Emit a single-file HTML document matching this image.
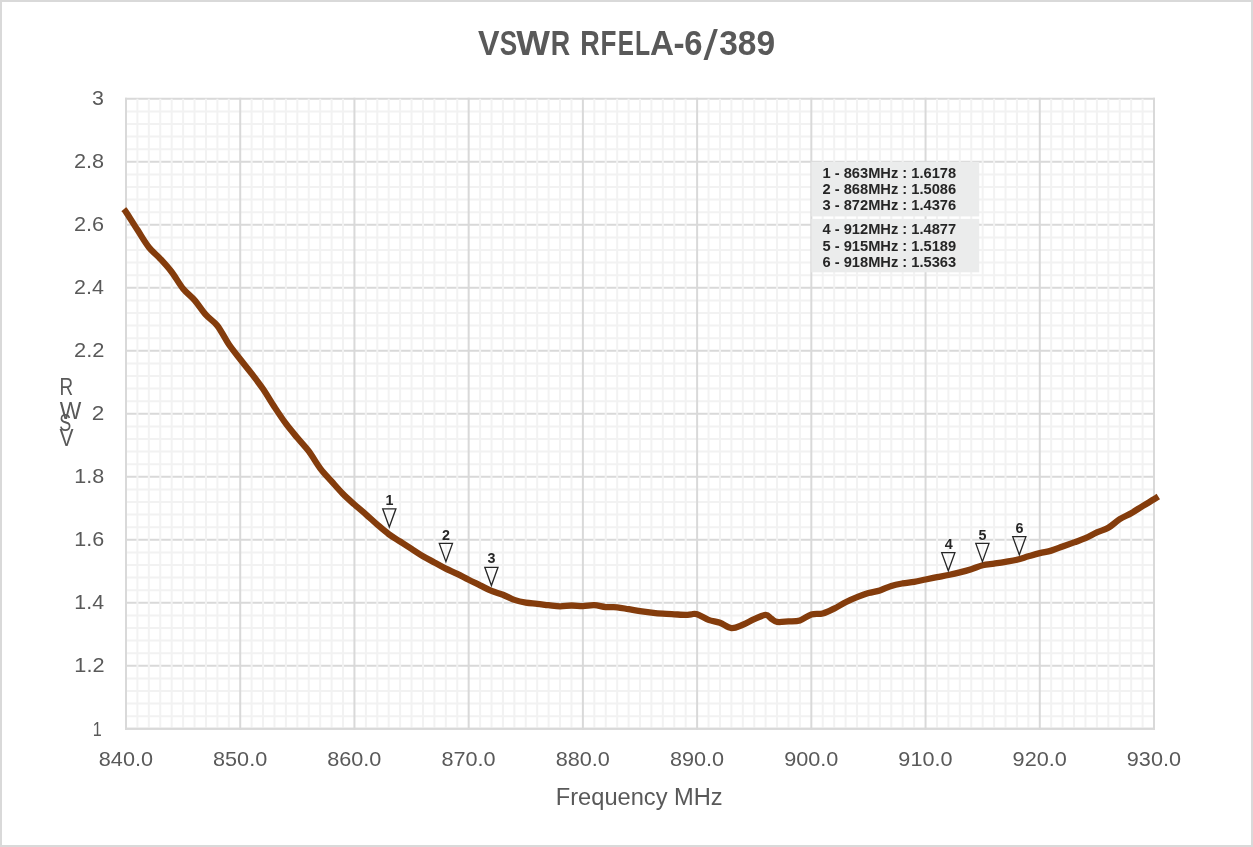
<!DOCTYPE html>
<html lang="en"><head><meta charset="utf-8"><title>VSWR RFELA-6/389</title>
<style>html,body{margin:0;padding:0;background:#fff}body{width:1253px;height:847px;overflow:hidden}svg{display:block}.t{font-family:"Liberation Sans",sans-serif;fill:#595959}.b{font-family:"Liberation Sans",sans-serif;font-weight:bold;fill:#262626}</style></head><body>
<svg width="1253" height="847" viewBox="0 0 1253 847">
<rect x="0" y="0" width="1253" height="847" fill="#ffffff"/>
<rect x="1" y="1" width="1251" height="845" fill="none" stroke="#d9d9d9" stroke-width="2"/>
<path d="M125.0 98.80H1155.0M125.0 161.80H1155.0M125.0 224.80H1155.0M125.0 287.80H1155.0M125.0 350.80H1155.0M125.0 413.80H1155.0M125.0 476.80H1155.0M125.0 539.80H1155.0M125.0 602.80H1155.0M125.0 665.80H1155.0M125.0 728.80H1155.0" stroke="#d9d9d9" stroke-width="2" fill="none"/>
<path d="M126.0 111.40H1154.0M126.0 124.00H1154.0M126.0 136.60H1154.0M126.0 149.20H1154.0M126.0 174.40H1154.0M126.0 187.00H1154.0M126.0 199.60H1154.0M126.0 212.20H1154.0M126.0 237.40H1154.0M126.0 250.00H1154.0M126.0 262.60H1154.0M126.0 275.20H1154.0M126.0 300.40H1154.0M126.0 313.00H1154.0M126.0 325.60H1154.0M126.0 338.20H1154.0M126.0 363.40H1154.0M126.0 376.00H1154.0M126.0 388.60H1154.0M126.0 401.20H1154.0M126.0 426.40H1154.0M126.0 439.00H1154.0M126.0 451.60H1154.0M126.0 464.20H1154.0M126.0 489.40H1154.0M126.0 502.00H1154.0M126.0 514.60H1154.0M126.0 527.20H1154.0M126.0 552.40H1154.0M126.0 565.00H1154.0M126.0 577.60H1154.0M126.0 590.20H1154.0M126.0 615.40H1154.0M126.0 628.00H1154.0M126.0 640.60H1154.0M126.0 653.20H1154.0M126.0 678.40H1154.0M126.0 691.00H1154.0M126.0 703.60H1154.0M126.0 716.20H1154.0" stroke="#f2f2f2" stroke-width="2" fill="none"/>
<path d="M137.42 98.8V728.8M148.84 98.8V728.8M160.27 98.8V728.8M171.69 98.8V728.8M183.11 98.8V728.8M194.53 98.8V728.8M205.96 98.8V728.8M217.38 98.8V728.8M228.80 98.8V728.8M251.64 98.8V728.8M263.07 98.8V728.8M274.49 98.8V728.8M285.91 98.8V728.8M297.33 98.8V728.8M308.76 98.8V728.8M320.18 98.8V728.8M331.60 98.8V728.8M343.02 98.8V728.8M365.87 98.8V728.8M377.29 98.8V728.8M388.71 98.8V728.8M400.13 98.8V728.8M411.56 98.8V728.8M422.98 98.8V728.8M434.40 98.8V728.8M445.82 98.8V728.8M457.24 98.8V728.8M480.09 98.8V728.8M491.51 98.8V728.8M502.93 98.8V728.8M514.36 98.8V728.8M525.78 98.8V728.8M537.20 98.8V728.8M548.62 98.8V728.8M560.04 98.8V728.8M571.47 98.8V728.8M594.31 98.8V728.8M605.73 98.8V728.8M617.16 98.8V728.8M628.58 98.8V728.8M640.00 98.8V728.8M651.42 98.8V728.8M662.84 98.8V728.8M674.27 98.8V728.8M685.69 98.8V728.8M708.53 98.8V728.8M719.96 98.8V728.8M731.38 98.8V728.8M742.80 98.8V728.8M754.22 98.8V728.8M765.64 98.8V728.8M777.07 98.8V728.8M788.49 98.8V728.8M799.91 98.8V728.8M822.76 98.8V728.8M834.18 98.8V728.8M845.60 98.8V728.8M857.02 98.8V728.8M868.44 98.8V728.8M879.87 98.8V728.8M891.29 98.8V728.8M902.71 98.8V728.8M914.13 98.8V728.8M936.98 98.8V728.8M948.40 98.8V728.8M959.82 98.8V728.8M971.24 98.8V728.8M982.67 98.8V728.8M994.09 98.8V728.8M1005.51 98.8V728.8M1016.93 98.8V728.8M1028.36 98.8V728.8M1051.20 98.8V728.8M1062.62 98.8V728.8M1074.04 98.8V728.8M1085.47 98.8V728.8M1096.89 98.8V728.8M1108.31 98.8V728.8M1119.73 98.8V728.8M1131.16 98.8V728.8M1142.58 98.8V728.8" stroke="#f2f2f2" stroke-width="2" fill="none"/>
<path d="M126.00 97.8V729.8M240.22 97.8V729.8M354.44 97.8V729.8M468.67 97.8V729.8M582.89 97.8V729.8M697.11 97.8V729.8M811.33 97.8V729.8M925.56 97.8V729.8M1039.78 97.8V729.8M1154.00 97.8V729.8" stroke="#d9d9d9" stroke-width="2" fill="none"/>
<path d="M125.0 728.80H1155.0" stroke="#d9d9d9" stroke-width="2" fill="none"/>
<rect x="811.4" y="161.8" width="167.8" height="54.6" fill="#ebecec"/>
<rect x="811.4" y="218.9" width="167.8" height="53.4" fill="#ebecec"/>
<text class="b" x="822.5" y="177.7" font-size="14.67">1 - 863MHz : 1.6178</text>
<text class="b" x="822.5" y="194.0" font-size="14.67">2 - 868MHz : 1.5086</text>
<text class="b" x="822.5" y="210.3" font-size="14.67">3 - 872MHz : 1.4376</text>
<text class="b" x="822.5" y="234.4" font-size="14.67">4 - 912MHz : 1.4877</text>
<text class="b" x="822.5" y="250.7" font-size="14.67">5 - 915MHz : 1.5189</text>
<text class="b" x="822.5" y="267.0" font-size="14.67">6 - 918MHz : 1.5363</text>
<path d="M123.70 209.20 C124.08 209.65 123.71 208.47 126.00 211.90 C128.29 215.33 133.61 223.92 137.42 229.80 C141.23 235.68 145.04 242.37 148.84 247.20 C152.65 252.03 156.46 254.67 160.27 258.80 C164.07 262.93 167.88 267.02 171.69 272.00 C175.50 276.98 179.30 284.02 183.11 288.70 C186.92 293.38 190.73 295.73 194.53 300.10 C198.34 304.47 202.15 310.63 205.96 314.90 C209.76 319.17 213.57 320.82 217.38 325.70 C221.19 330.58 224.99 338.62 228.80 344.20 C232.61 349.78 236.41 354.30 240.22 359.20 C244.03 364.10 247.84 368.63 251.64 373.60 C255.45 378.57 259.26 383.43 263.07 389.00 C266.87 394.57 270.68 401.22 274.49 407.00 C278.30 412.78 282.10 418.57 285.91 423.70 C289.72 428.83 293.53 433.22 297.33 437.80 C301.14 442.38 304.95 446.12 308.76 451.20 C312.56 456.28 316.37 463.27 320.18 468.30 C323.99 473.33 327.79 477.12 331.60 481.40 C335.41 485.68 339.21 490.15 343.02 494.00 C346.83 497.85 350.64 501.12 354.44 504.50 C358.25 507.88 362.06 510.95 365.87 514.30 C369.67 517.65 373.48 521.30 377.29 524.60 C381.10 527.90 384.90 531.28 388.71 534.10 C392.52 536.92 396.33 539.03 400.13 541.50 C403.94 543.97 407.75 546.45 411.56 548.90 C415.36 551.35 419.17 553.95 422.98 556.20 C426.79 558.45 430.59 560.33 434.40 562.40 C438.21 564.47 442.01 566.70 445.82 568.60 C449.63 570.50 453.44 571.93 457.24 573.80 C461.05 575.67 464.86 577.88 468.67 579.80 C472.47 581.72 476.28 583.45 480.09 585.30 C483.90 587.15 487.70 589.33 491.51 590.90 C495.32 592.47 499.13 593.20 502.93 594.70 C506.74 596.20 510.55 598.57 514.36 599.90 C518.16 601.23 521.97 602.05 525.78 602.70 C529.59 603.35 533.39 603.38 537.20 603.80 C541.01 604.22 544.81 604.77 548.62 605.20 C552.43 605.63 556.24 606.35 560.04 606.40 C563.85 606.45 567.66 605.55 571.47 605.50 C575.27 605.45 579.08 606.15 582.89 606.10 C586.70 606.05 590.50 605.03 594.31 605.20 C598.12 605.37 601.93 606.75 605.73 607.10 C609.54 607.45 613.35 606.95 617.16 607.30 C620.96 607.65 624.77 608.57 628.58 609.20 C632.39 609.83 636.19 610.53 640.00 611.10 C643.81 611.67 647.61 612.17 651.42 612.60 C655.23 613.03 659.04 613.42 662.84 613.70 C666.65 613.98 670.46 614.12 674.27 614.30 C678.07 614.48 682.83 614.80 685.69 614.80 C688.54 614.80 689.50 614.40 691.40 614.30 C693.30 614.20 694.26 613.27 697.11 614.20 C699.97 615.13 704.73 618.48 708.53 619.90 C712.34 621.32 716.15 621.33 719.96 622.70 C723.76 624.07 727.57 627.76 731.38 628.10 C735.19 628.44 738.99 626.23 742.80 624.75 C746.61 623.27 750.41 620.84 754.22 619.20 C758.03 617.56 762.79 614.98 765.64 614.90 C768.50 614.82 769.45 617.53 771.36 618.70 C773.26 619.87 774.21 621.45 777.07 621.90 C779.92 622.35 784.68 621.65 788.49 621.40 C792.30 621.15 796.10 621.55 799.91 620.40 C803.72 619.25 807.53 615.65 811.33 614.50 C815.14 613.35 818.95 614.48 822.76 613.50 C826.56 612.52 830.37 610.47 834.18 608.60 C837.99 606.73 841.79 604.20 845.60 602.30 C849.41 600.40 853.21 598.73 857.02 597.20 C860.83 595.67 864.64 594.23 868.44 593.10 C872.25 591.97 876.06 591.60 879.87 590.40 C883.67 589.20 887.48 587.07 891.29 585.90 C895.10 584.73 898.90 584.08 902.71 583.40 C906.52 582.72 910.33 582.45 914.13 581.80 C917.94 581.15 921.75 580.27 925.56 579.50 C929.36 578.73 933.17 577.95 936.98 577.20 C940.79 576.45 944.59 575.80 948.40 575.00 C952.21 574.20 956.01 573.37 959.82 572.40 C963.63 571.43 967.44 570.38 971.24 569.20 C975.05 568.02 978.86 566.23 982.67 565.30 C986.47 564.37 990.28 564.18 994.09 563.60 C997.90 563.02 1001.70 562.45 1005.51 561.80 C1009.32 561.15 1013.13 560.62 1016.93 559.70 C1020.74 558.78 1024.55 557.40 1028.36 556.30 C1032.16 555.20 1035.97 554.05 1039.78 553.10 C1043.59 552.15 1047.39 551.70 1051.20 550.60 C1055.01 549.50 1058.81 547.87 1062.62 546.50 C1066.43 545.13 1070.24 543.78 1074.04 542.40 C1077.85 541.02 1081.66 539.87 1085.47 538.20 C1089.27 536.53 1093.08 534.13 1096.89 532.40 C1100.70 530.67 1104.50 530.00 1108.31 527.80 C1112.12 525.60 1115.93 521.63 1119.73 519.20 C1123.54 516.77 1127.35 515.38 1131.16 513.20 C1134.96 511.02 1138.77 508.42 1142.58 506.10 C1146.39 503.78 1151.38 500.90 1154.00 499.30 C1156.62 497.70 1157.58 496.97 1158.30 496.50" fill="none" stroke="#843c0c" stroke-width="6.3" stroke-linejoin="round"/>
<path d="M389.3 527.0L382.7 508.8H395.9Z" fill="none" stroke="#262626" stroke-width="1.3"/>
<text class="b" x="389.6" y="505.4" font-size="14.3" text-anchor="middle">1</text>
<path d="M445.9 561.6L439.3 543.4H452.5Z" fill="none" stroke="#262626" stroke-width="1.3"/>
<text class="b" x="446.0" y="539.6" font-size="14.3" text-anchor="middle">2</text>
<path d="M491.4 585.5L484.8 567.3H498.0Z" fill="none" stroke="#262626" stroke-width="1.3"/>
<text class="b" x="491.6" y="563.1" font-size="14.3" text-anchor="middle">3</text>
<path d="M948.3 570.8L941.7 552.6H954.9Z" fill="none" stroke="#262626" stroke-width="1.3"/>
<text class="b" x="948.7" y="549.4" font-size="14.3" text-anchor="middle">4</text>
<path d="M982.4 561.6L975.8 543.4H989.0Z" fill="none" stroke="#262626" stroke-width="1.3"/>
<text class="b" x="982.6" y="539.6" font-size="14.3" text-anchor="middle">5</text>
<path d="M1019.3 554.8L1012.7 536.6H1025.9Z" fill="none" stroke="#262626" stroke-width="1.3"/>
<text class="b" x="1019.5" y="532.8" font-size="14.3" text-anchor="middle">6</text>
<text class="t" y="55.4" font-size="34.8" font-weight="bold"><tspan x="478.07" textLength="21.53" lengthAdjust="spacingAndGlyphs" y="55.4">V</tspan><tspan x="499.65" textLength="17.46" lengthAdjust="spacingAndGlyphs" y="55.4">S</tspan><tspan x="516.20" textLength="33.70" lengthAdjust="spacingAndGlyphs" y="55.4">W</tspan><tspan x="550.86" textLength="19.43" lengthAdjust="spacingAndGlyphs" y="55.4">R</tspan> <tspan x="580.15" textLength="19.54" lengthAdjust="spacingAndGlyphs" y="55.4">R</tspan><tspan x="600.61" textLength="15.93" lengthAdjust="spacingAndGlyphs" y="55.4">F</tspan><tspan x="617.83" textLength="16.19" lengthAdjust="spacingAndGlyphs" y="55.4">E</tspan><tspan x="635.10" textLength="15.12" lengthAdjust="spacingAndGlyphs" y="55.4">L</tspan><tspan x="650.05" textLength="24.01" lengthAdjust="spacingAndGlyphs" y="55.4">A</tspan><tspan x="673.51" textLength="11.08" lengthAdjust="spacingAndGlyphs" y="55.4">-</tspan><tspan x="684.22" textLength="18.26" lengthAdjust="spacingAndGlyphs" y="55.4">6</tspan><tspan x="703.40" textLength="14.34" lengthAdjust="spacingAndGlyphs" y="60" font-size="43" font-weight="normal">/</tspan><tspan x="719.18" textLength="55.89" lengthAdjust="spacingAndGlyphs" y="55.4">389</tspan></text>
<text class="t" x="92.14" textLength="11.92" lengthAdjust="spacingAndGlyphs" y="105.1" font-size="21.0">3</text>
<text class="t" x="74.07" textLength="30.11" lengthAdjust="spacingAndGlyphs" y="168.1" font-size="21.0">2.8</text>
<text class="t" x="74.07" textLength="30.11" lengthAdjust="spacingAndGlyphs" y="231.1" font-size="21.0">2.6</text>
<text class="t" x="74.08" textLength="29.84" lengthAdjust="spacingAndGlyphs" y="294.1" font-size="21.0">2.4</text>
<text class="t" x="74.06" textLength="30.39" lengthAdjust="spacingAndGlyphs" y="357.1" font-size="21.0">2.2</text>
<text class="t" x="91.83" textLength="12.55" lengthAdjust="spacingAndGlyphs" y="420.1" font-size="21.0">2</text>
<text class="t" x="74.36" textLength="29.91" lengthAdjust="spacingAndGlyphs" y="483.1" font-size="21.0">1.8</text>
<text class="t" x="74.36" textLength="29.91" lengthAdjust="spacingAndGlyphs" y="546.1" font-size="21.0">1.6</text>
<text class="t" x="74.38" textLength="29.64" lengthAdjust="spacingAndGlyphs" y="609.1" font-size="21.0">1.4</text>
<text class="t" x="74.35" textLength="30.19" lengthAdjust="spacingAndGlyphs" y="672.1" font-size="21.0">1.2</text>
<text class="t" x="92.75" textLength="8.97" lengthAdjust="spacingAndGlyphs" y="735.6" font-size="21.0">1</text>
<text class="t" x="98.82" textLength="54.17" lengthAdjust="spacingAndGlyphs" y="766.3" font-size="21.0">840.0</text>
<text class="t" x="213.04" textLength="54.17" lengthAdjust="spacingAndGlyphs" y="766.3" font-size="21.0">850.0</text>
<text class="t" x="327.26" textLength="54.17" lengthAdjust="spacingAndGlyphs" y="766.3" font-size="21.0">860.0</text>
<text class="t" x="441.49" textLength="54.17" lengthAdjust="spacingAndGlyphs" y="766.3" font-size="21.0">870.0</text>
<text class="t" x="555.71" textLength="54.17" lengthAdjust="spacingAndGlyphs" y="766.3" font-size="21.0">880.0</text>
<text class="t" x="669.93" textLength="54.17" lengthAdjust="spacingAndGlyphs" y="766.3" font-size="21.0">890.0</text>
<text class="t" x="784.15" textLength="54.17" lengthAdjust="spacingAndGlyphs" y="766.3" font-size="21.0">900.0</text>
<text class="t" x="898.38" textLength="54.17" lengthAdjust="spacingAndGlyphs" y="766.3" font-size="21.0">910.0</text>
<text class="t" x="1012.60" textLength="54.17" lengthAdjust="spacingAndGlyphs" y="766.3" font-size="21.0">920.0</text>
<text class="t" x="1126.82" textLength="54.17" lengthAdjust="spacingAndGlyphs" y="766.3" font-size="21.0">930.0</text>
<text class="t" x="555.75" textLength="166.93" lengthAdjust="spacingAndGlyphs" y="805.2" font-size="23.1">Frequency MHz</text>
<text class="t" font-size="23.6"><tspan x="59.38" textLength="14.05" lengthAdjust="spacingAndGlyphs" y="445.6">V</tspan><tspan x="59.25" textLength="12.02" lengthAdjust="spacingAndGlyphs" y="430.5">S</tspan><tspan x="59.66" textLength="21.57" lengthAdjust="spacingAndGlyphs" y="419.0">W</tspan><tspan x="59.40" textLength="13.64" lengthAdjust="spacingAndGlyphs" y="395.4">R</tspan></text>
</svg></body></html>
